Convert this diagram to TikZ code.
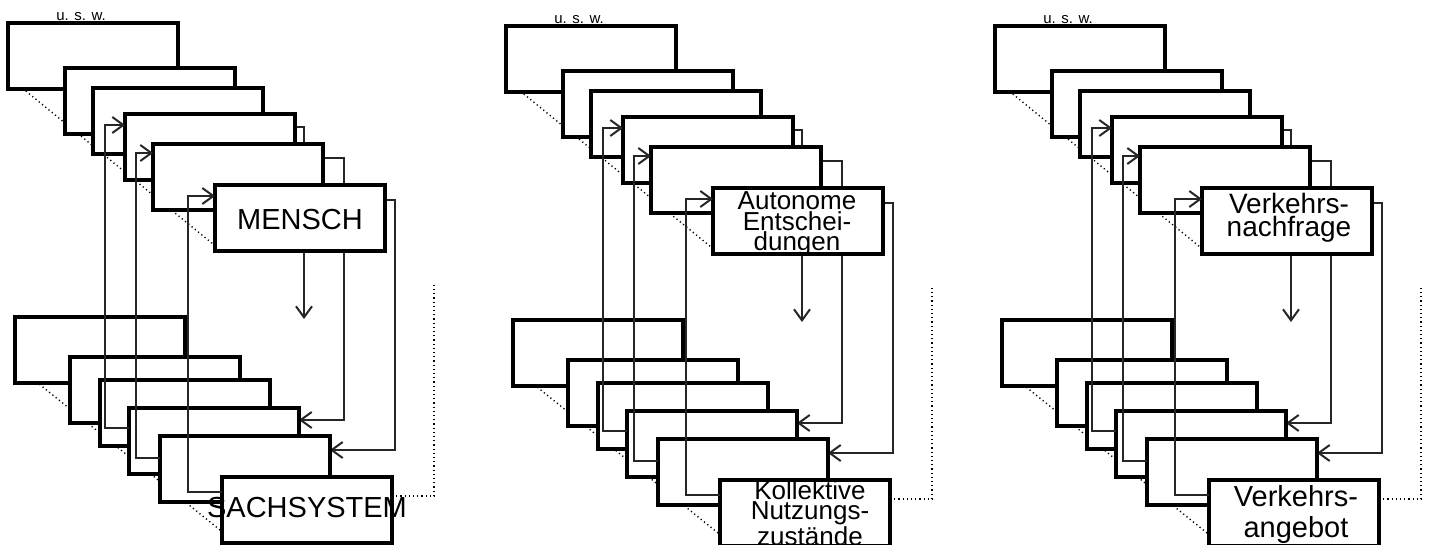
\documentclass[tikz,border=0pt]{standalone}
\usepackage{fontspec}
\setmainfont{Liberation Sans}
\usetikzlibrary{arrows.meta,calc,backgrounds}
\tikzset{
 box/.style={draw=black, line width=3.2pt, fill=white, minimum width=170pt, minimum height=66pt, inner sep=0pt, outer sep=0pt},
 conn/.style={draw=black!85, line width=1.1pt, -{Straight Barb[length=11pt,width=16pt,line width=2pt]}},
 dotline/.style={draw=black, line width=1.4pt, dash pattern=on 1.2pt off 3pt},
 lbl/.style={inner sep=0pt, outer sep=0pt, align=center},
}
\newcommand{\drawpanel}[3]{%
 \node[box] (#1B1) at ({100+#2},{350+#3}) {};
 \node[box] (#1B2) at ({155+#2},{390+#3}) {};
 \node[box] (#1B3) at ({185+#2},{413+#3}) {};
 \node[box] (#1B4) at ({214+#2},{441+#3}) {};
 \node[box] (#1B5) at ({245+#2},{469+#3}) {};
 \node[box] (#1B6) at ({307+#2},{510+#3}) {};
 \node[box] (#1T1) at ({93+#2},{56+#3}) {};
 \node[box] (#1T2) at ({150+#2},{101+#3}) {};
 \node[box] (#1T3) at ({178+#2},{121+#3}) {};
 \node[box] (#1T4) at ({210+#2},{147+#3}) {};
 \node[box] (#1T5) at ({238+#2},{177+#3}) {};
 \node[box] (#1T6) at ({300+#2},{218+#3}) {};
 \node[lbl, font=\fontsize{15}{15}\selectfont, anchor=base] (#1usw) at ({81+#2},{20+#3}) {u. s. w.};
 \coordinate (#1a) at ({304+#2},{319+#3});
 \coordinate (#1e) at ({434+#2},{283+#3});
 \begin{pgfonlayer}{background}
  \draw[dotline] ($(#1T1.south west)+(8,-6)$) -- ($(#1T6.south west)+(-2,-7)$);
  \draw[dotline] ($(#1B1.south west)+(8,-12)$) -- ($(#1B6.south west)+(-2,-13)$);
  \draw[dotline] ($(#1B6.north east)+(0,19)$) -| (#1e);
  \draw[conn] ($(#1T4.north east)+(0,13)$) -| (#1a);
  \draw[conn] ($(#1T5.north east)+(0,14)$) -| ($(#1B4.north east)+(45,12)$) -- ($(#1B4.north east)+(0,12)$);
  \draw[conn] ($(#1T6.north east)+(0,15)$) -| ($(#1B5.north east)+(65,14)$) -- ($(#1B5.north east)+(0,14)$);
 \end{pgfonlayer}
 \draw[conn] ($(#1B4.north west)+(0,20)$) -| ($(#1T4.north west)+(-20,11)$) -- ($(#1T4.north west)+(0,11)$);
 \draw[conn] ($(#1B5.north west)+(0,22)$) -| ($(#1T5.north west)+(-17,9)$) -- ($(#1T5.north west)+(0,9)$);
 \draw[conn] ($(#1B6.north west)+(0,15)$) -| ($(#1T6.north west)+(-27,11)$) -- ($(#1T6.north west)+(0,11)$);
}
\begin{document}
\begin{tikzpicture}[x=1pt,y=-1pt]
 \useasboundingbox (0,0) rectangle (1429,544);
 \clip (0,0) rectangle (1429,544);
 \begin{pgfonlayer}{background}
  \fill[white] (0,0) rectangle (1429,544);
 \end{pgfonlayer}
 \drawpanel{a}{0}{0}
 \drawpanel{b}{498}{3}
 \drawpanel{c}{987}{3}
 \node[lbl, font=\fontsize{29}{29}\selectfont, anchor=base] (aTop) at (300,229) {MENSCH};
 \node[lbl, font=\fontsize{29}{29}\selectfont, anchor=base] (aBot) at (307,517) {SACHSYSTEM};
 \node[lbl, font=\fontsize{26}{20.5}\selectfont, anchor=north] (bTop) at (797,192) {Autonome\\Entschei-\\dungen};
 \node[lbl, font=\fontsize{26}{20}\selectfont, anchor=north] (bBot) at (810,481) {Kollektive\\Nutzungs-\\zustände};
 \node[lbl, font=\fontsize{28}{23.5}\selectfont, anchor=north] (cTop) at (1289,193) {Verkehrs-\\nachfrage};
 \node[lbl, font=\fontsize{29}{31}\selectfont, anchor=north] (cBot) at (1296,485) {Verkehrs-\\angebot};
\end{tikzpicture}
\end{document}
